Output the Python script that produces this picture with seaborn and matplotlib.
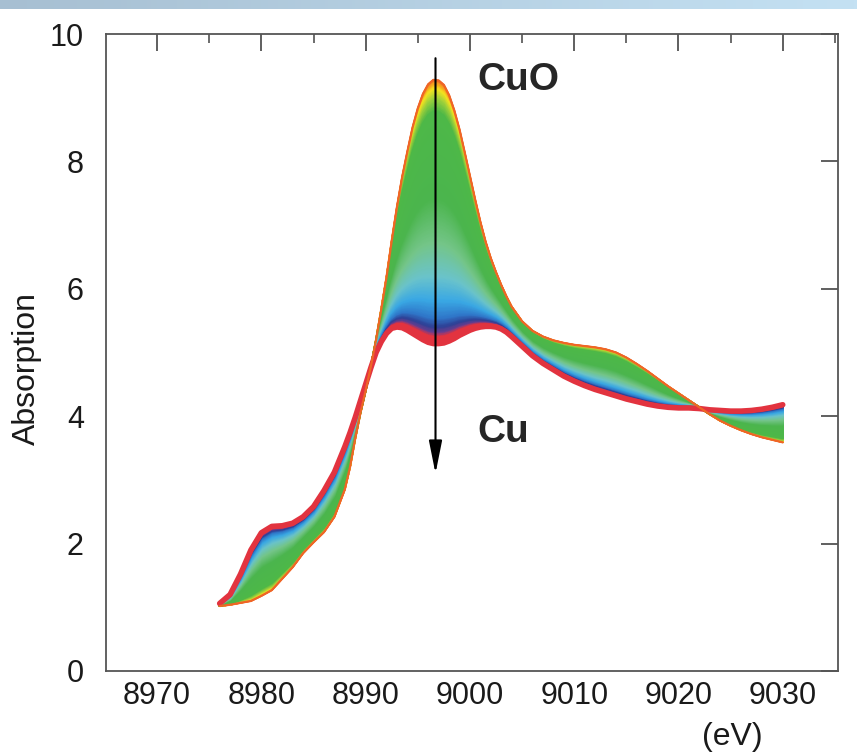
import numpy as np
import pandas as pd
import matplotlib
matplotlib.use("Agg")
import matplotlib.pyplot as plt
from matplotlib.colors import LinearSegmentedColormap
from matplotlib.ticker import MultipleLocator
import seaborn as sns

# Cu K-edge XANES: photon energy (eV)
energy = [8976, 8977, 8978, 8979, 8980, 8981, 8982, 8983, 8984, 8985, 8986, 8987,
          8988, 8988.5, 8989, 8989.5, 8990, 8990.5, 8991, 8991.5, 8992, 8992.5,
          8993, 8993.5, 8994, 8994.5, 8995, 8995.5, 8996, 8996.5, 8997, 8997.5,
          8998, 8998.5, 8999, 8999.5, 9000, 9000.5, 9001, 9001.5, 9002, 9002.5,
          9003, 9003.5, 9004, 9005, 9006, 9007, 9008, 9009, 9010, 9011, 9012,
          9013, 9014, 9015, 9016, 9017, 9018, 9019, 9020, 9021, 9022, 9023,
          9024, 9025, 9026, 9027, 9028, 9029, 9030]

# CuO reference spectrum (start of the reduction)
cuo = [1.02, 1.04, 1.07, 1.10, 1.18, 1.27, 1.45, 1.63, 1.85, 2.02, 2.18, 2.42,
       2.85, 3.20, 3.65, 4.05, 4.40, 4.78, 5.20, 5.68, 6.18, 6.75,
       7.28, 7.75, 8.15, 8.53, 8.83, 9.06, 9.21, 9.28, 9.27, 9.20,
       9.04, 8.80, 8.50, 8.14, 7.77, 7.40, 7.05, 6.74, 6.48, 6.26,
       6.06, 5.88, 5.72, 5.49, 5.34, 5.25, 5.19, 5.15, 5.12, 5.10, 5.08,
       5.05, 5.00, 4.92, 4.82, 4.71, 4.59, 4.47, 4.36, 4.25, 4.14, 4.03,
       3.93, 3.85, 3.78, 3.72, 3.67, 3.63, 3.59]

# metallic Cu spectrum (end of the reduction)
cu = [1.06, 1.20, 1.52, 1.90, 2.17, 2.27, 2.28, 2.32, 2.42, 2.58, 2.83, 3.12,
      3.52, 3.74, 3.98, 4.24, 4.50, 4.76, 5.00, 5.17, 5.30, 5.38,
      5.40, 5.39, 5.35, 5.30, 5.25, 5.20, 5.16, 5.14, 5.14, 5.15,
      5.18, 5.22, 5.27, 5.31, 5.35, 5.38, 5.40, 5.41, 5.41, 5.40,
      5.37, 5.32, 5.25, 5.10, 4.95, 4.83, 4.73, 4.63, 4.55, 4.48, 4.42,
      4.37, 4.32, 4.27, 4.23, 4.19, 4.16, 4.14, 4.13, 4.13, 4.12, 4.10,
      4.09, 4.08, 4.08, 4.09, 4.11, 4.14, 4.18]

# reaction progress of the recorded spectra (0 = CuO, 1 = Cu)
n_spectra = 320
progress = np.linspace(0.0, 1.0, n_spectra)

x_ticks = [8970, 8980, 8990, 9000, 9010, 9020, 9030]
y_ticks = [0, 2, 4, 6, 8, 10]

e = np.asarray(energy)
a0 = np.asarray(cuo)
a1 = np.asarray(cu)
frames = []
for p in progress:
    frames.append(pd.DataFrame({"energy": e,
                                "absorption": (1 - p) * a0 + p * a1,
                                "progress": p}))
df = pd.concat(frames, ignore_index=True)

stops = [(0.00, "#ef6526"), (0.015, "#f7a01d"), (0.035, "#f4e41f"),
         (0.07, "#9fd13b"), (0.12, "#4db848"), (0.45, "#4bb54d"),
         (0.62, "#74c588"), (0.75, "#6ac3cc"), (0.84, "#3aa8e4"),
         (0.905, "#2f78ca"), (0.94, "#2e4196"), (0.962, "#6b3d8e"),
         (0.975, "#e2333f"), (1.0, "#e2333f")]
cmap = LinearSegmentedColormap.from_list("reduction", stops)

sns.set_style("white")
plt.rcParams["font.family"] = ["Liberation Sans", "DejaVu Sans"]

fig = plt.figure(figsize=(8.57, 7.56), dpi=100)

# light title band across the top of the figure
band = fig.add_axes([0, 1 - 9 / 756, 1, 9 / 756])
band.imshow(np.linspace(0, 1, 256)[None, :], aspect="auto",
            cmap=LinearSegmentedColormap.from_list("band", ["#a7bfd2", "#c4e1f3"]))
band.axis("off")

ax = fig.add_axes([106 / 857, 1 - 671 / 756, (838 - 106) / 857, (671 - 34) / 756])

sns.lineplot(data=df, x="energy", y="absorption", hue="progress",
             palette=cmap, hue_norm=(0, 1), estimator=None, sort=False,
             linewidth=1.3, legend=False, ax=ax)
sns.lineplot(x=energy, y=cu, color="#e2333f", linewidth=4.0,
             estimator=None, sort=False, ax=ax)
sns.lineplot(x=energy, y=cuo, color="#ef6526", linewidth=1.6,
             estimator=None, sort=False, ax=ax)

ax.set_xlim(8965.1, 9035.3)
ax.set_ylim(0, 10)
ax.set_xticks(x_ticks)
ax.set_yticks(y_ticks)
ax.xaxis.set_minor_locator(MultipleLocator(5))

for s in ax.spines.values():
    s.set_color("#555555")
    s.set_linewidth(1.3)

ax.tick_params(which="major", direction="in", top=True, right=True,
               length=12, width=1.2, color="#444444", labelsize=22,
               labelcolor="#1a1a1a")
ax.tick_params(axis="x", which="minor", direction="in", top=True,
               length=6.5, width=1.1, color="#444444")
ax.tick_params(axis="x", which="major", pad=7)
ax.tick_params(axis="y", which="major", pad=16)

ax.set_ylabel("Absorption", fontsize=23, color="#1a1a1a", va="center")
ax.yaxis.set_label_coords(-0.108, 0.475)
ax.set_xlabel("(eV)", fontsize=23, color="#1a1a1a", va="center")
ax.xaxis.set_label_coords(0.855, -0.104)

ax.annotate("", xy=(8996.7, 3.1), xytext=(8996.7, 9.62),
            arrowprops=dict(arrowstyle="-|>,head_length=0.8,head_width=0.16",
                            color="black", lw=1.5, mutation_scale=25,
                            shrinkA=0, shrinkB=0))
ax.text(9000.7, 9.12, "CuO", fontsize=28, fontweight="bold", va="baseline")
ax.text(9000.7, 3.6, "Cu", fontsize=28, fontweight="bold", va="baseline")

fig.savefig("out.png", dpi=100)
